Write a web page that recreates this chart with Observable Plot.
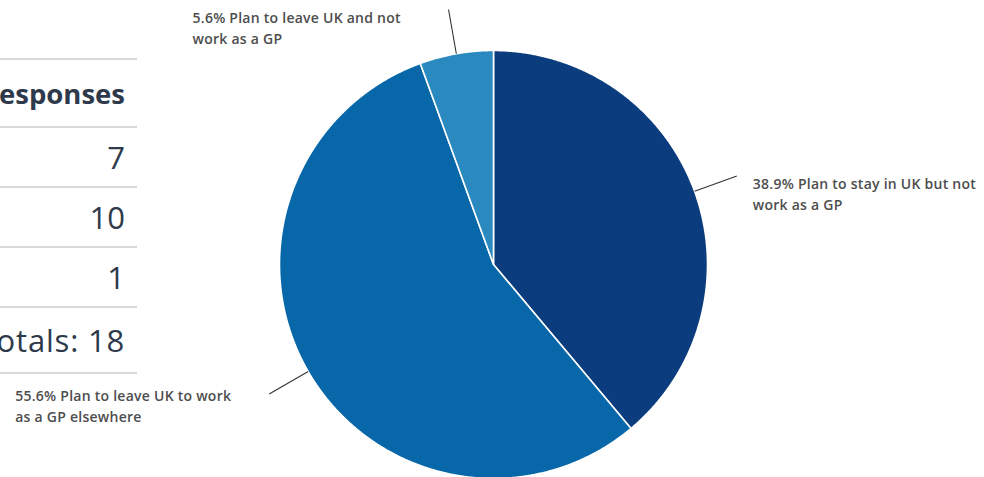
<!DOCTYPE html>
<html><head><meta charset="utf-8">
<script src="https://cdn.jsdelivr.net/npm/d3@7"></script>
<script src="https://cdn.jsdelivr.net/npm/@observablehq/plot@0.6"></script>
<style>
body{margin:0;background:#fff;width:984px;height:477px;overflow:hidden;position:relative;font-family:"Open Sans",Lato,sans-serif;}
#chart{position:absolute;left:0;top:0;}
#table{position:absolute;left:-400px;top:58px;width:537px;color:#2e3a4b;}
.row{display:flex;align-items:center;justify-content:flex-end;padding-right:12px;border-top:2px solid #d9d9d9;box-sizing:border-box;white-space:nowrap;font-size:31px;}
.row.head{font-weight:700;font-size:27.5px;}
.row.last{border-bottom:2px solid #d9d9d9;letter-spacing:0.8px;}
</style></head><body>
<div id="chart"></div><div id="table"></div>
<script>
const categories = [
  "Plan to stay in UK but not\nwork as a GP",
  "Plan to leave UK to work\nas a GP elsewhere",
  "Plan to leave UK and not\nwork as a GP"
];
const responses = [7, 10, 1];
const colors = ["#0b3c7d", "#0767a9", "#2a89bf"];
const tableHeader = "Responses";
const totalsLabel = "Totals";

const W = 984, H = 477, cx = 493, cy = 264, R = 214;
const total = d3.sum(responses);
const fmt = d3.format(".1f");
const arcs = d3.pie().sort(null).value(d => d)(responses)
  .map((a, i) => ({...a, i, mid: (a.startAngle + a.endAngle) / 2,
    label: fmt(a.value / total * 100) + "% " + categories[i]}));

const slicePts = arcs.flatMap(a => {
  const n = Math.max(2, Math.ceil((a.endAngle - a.startAngle) / 0.005));
  const pts = [{x: 0, y: 0, i: a.i}];
  for (let k = 0; k <= n; k++) {
    const t = a.startAngle + (a.endAngle - a.startAngle) * k / n;
    pts.push({x: Math.sin(t), y: Math.cos(t), i: a.i});
  }
  pts.push({x: 0, y: 0, i: a.i});
  return pts;
});

const rEnd = 1.21;
const lx = a => rEnd * Math.sin(a.mid), ly = a => rEnd * Math.cos(a.mid);
const labelMark = (i, dx, dy) => Plot.text([arcs[i]], {
  x: lx, y: ly, text: "label", dx, dy, textAnchor: "start", lineAnchor: "top",
  lineHeight: 1.5, fontSize: 14, fontWeight: 600, fill: "#4d4d4d",
  fontFamily: "'Open Sans', Lato, sans-serif"
});

const chart = Plot.plot({
  width: W, height: H, margin: 0,
  x: {domain: [-cx / R, (W - cx) / R], range: [0, W], axis: null},
  y: {domain: [-(H - cy) / R, cy / R], range: [H, 0], axis: null},
  style: {background: "transparent", letterSpacing: "0.25px"},
  marks: [
    ...arcs.map(a => Plot.line(slicePts.filter(p => p.i === a.i), {
      x: "x", y: "y", fill: colors[a.i], stroke: "white", strokeWidth: 1.6, strokeLinejoin: "round"
    })),
    Plot.link(arcs, {
      x1: a => Math.sin(a.mid), y1: a => Math.cos(a.mid), x2: lx, y2: ly,
      stroke: "#333", strokeWidth: 1.1
    }),
    labelMark(0, 16, -2),
    labelMark(1, -254, -8),
    labelMark(2, -256, -1)
  ]
});
document.getElementById("chart").appendChild(chart);

const tbl = document.getElementById("table");
const rows = [
  {text: tableHeader, cls: "row head", h: 68},
  ...responses.map(v => ({text: String(v), cls: "row", h: 60})),
  {text: totalsLabel + ": " + total, cls: "row last", h: 68}
];
rows.forEach(r => {
  const d = document.createElement("div");
  d.className = r.cls; d.style.height = r.h + "px"; d.textContent = r.text;
  tbl.appendChild(d);
});
</script>
</body></html>
